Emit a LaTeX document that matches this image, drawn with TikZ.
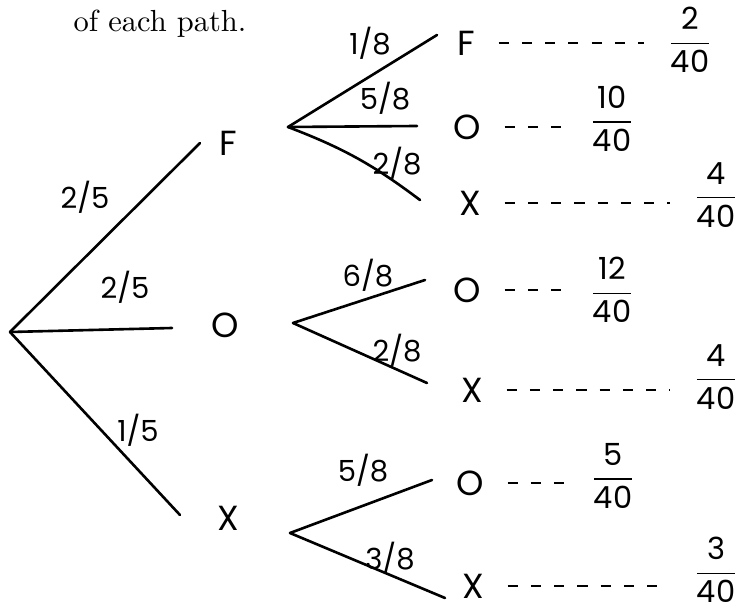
\documentclass[tikz,border=0pt]{standalone}
\usepackage{amsmath,amssymb}
\usepackage{fontspec}
\usepackage{tikz}
\usetikzlibrary{arrows.meta,positioning,calc}
\newfontfamily\handfont{Poppins}
\newcommand{\pathprob}[2]{$\dfrac{\text{#1}}{\text{#2}}$}

\begin{document}
\begin{tikzpicture}[x=0.0121cm,y=-0.0121cm,
  branch/.style={line width=0.9pt,line cap=round},
  outcome/.style={font=\handfont\fontsize{12}{13}\selectfont,inner sep=2pt},
  prob/.style={font=\handfont\fontsize{10}{11}\selectfont,inner sep=1pt},
  final/.style={font=\handfont\fontsize{10.5}{11}\selectfont,inner sep=0pt},
  dashline/.style={line width=0.9pt,dash pattern=on 3.5pt off 4.5pt,shorten <=6pt,shorten >=8pt}]
\useasboundingbox (0,0) rectangle (741,611);
\node[anchor=base west,inner sep=0pt,font=\fontsize{10.5}{12}\selectfont] (caption) at (73,32) {of each path.};

% first stage
\coordinate (root) at (10,332);
\node[outcome] (F) at (228,143) {F};
\node[outcome] (O) at (225,325) {O};
\node[outcome] (X) at (228,518) {X};
\coordinate (eF) at (200,143);
\coordinate (eO) at (172,328);
\coordinate (eX) at (180,515);
\draw[branch] (root) -- (eF);
\draw[branch] (root) -- (eO);
\draw[branch] (root) -- (eX);
\node[prob] (pF) at (85,197) {2/5};
\node[prob] (pO) at (125,287) {2/5};
\node[prob] (pX) at (138,430) {1/5};

% second stage
\coordinate (fF) at (288,127);
\coordinate (fO) at (293,323);
\coordinate (fX) at (290,533);
\coordinate (eFF) at (437,35);
\coordinate (eFO) at (417,126);
\coordinate (eFX) at (420,200);
\coordinate (eOO) at (425,280);
\coordinate (eOX) at (427,383);
\coordinate (eXO) at (432,480);
\coordinate (eXX) at (445,598);
\draw[branch] (fF) -- (eFF);
\draw[branch] (fF) -- (eFO);
\draw[branch] (fF) to[bend left=8] (eFX);
\draw[branch] (fO) -- (eOO);
\draw[branch] (fO) -- (eOX);
\draw[branch] (fX) -- (eXO);
\draw[branch] (fX) -- (eXX);
\node[prob] (pFF) at (370,43) {1/8};
\node[prob] (pFO) at (385,98) {5/8};
\node[prob] (pFX) at (397,163) {2/8};
\node[prob] (pOO) at (368,275) {6/8};
\node[prob] (pOX) at (397,350) {2/8};
\node[prob] (pXO) at (363,470) {5/8};
\node[prob] (pXX) at (390,558) {3/8};

\node[outcome] (FF) at (466,43) {F};
\node[outcome] (FO) at (467,127) {O};
\node[outcome] (FX) at (470,203) {X};
\node[outcome] (OO) at (467,290) {O};
\node[outcome] (OX) at (472,390) {X};
\node[outcome] (XO) at (470,483) {O};
\node[outcome] (XX) at (473,586) {X};

% path probabilities
\node[final] (rFF) at (690,40) {\pathprob{2}{40}};
\node[final] (rFO) at (612,119) {\pathprob{10}{40}};
\node[final] (rFX) at (716,195) {\pathprob{4}{40}};
\node[final] (rOO) at (612,290) {\pathprob{12}{40}};
\node[final] (rOX) at (716,377) {\pathprob{4}{40}};
\node[final] (rXO) at (613,476) {\pathprob{5}{40}};
\node[final] (rXX) at (716,570) {\pathprob{3}{40}};
\draw[dashline] (FF) -- (FF -| rFF.west);
\draw[dashline] (FO) -- (FO -| rFO.west);
\draw[dashline] (FX) -- (FX -| rFX.west);
\draw[dashline] (OO) -- (OO -| rOO.west);
\draw[dashline] (OX) -- (OX -| rOX.west);
\draw[dashline] (XO) -- (XO -| rXO.west);
\draw[dashline] (XX) -- (XX -| rXX.west);
\end{tikzpicture}
\end{document}
